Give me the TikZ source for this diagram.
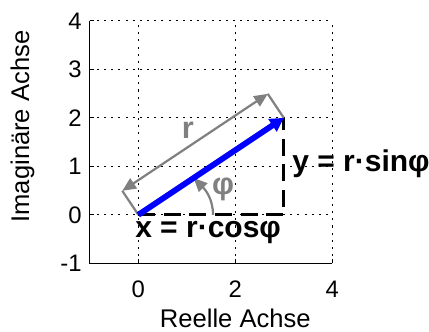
\documentclass[tikz,border=0pt]{standalone}
\usepackage{fontspec}
\setmainfont{Liberation Sans}
\usetikzlibrary{arrows.meta}
\definecolor{phasorblue}{RGB}{0,0,255}
\definecolor{phasorgray}{RGB}{128,128,128}

\begin{document}
\begin{tikzpicture}[
  gridline/.style={black, line width=0.5pt, dash pattern=on 1.2pt off 3pt},
  axisline/.style={black, line width=0.7pt},
  ticklabel/.style={font=\fontsize{14}{16}\selectfont, inner sep=0pt},
  axislabel/.style={font=\fontsize{15}{18}\selectfont, inner sep=0pt},
  partlabel/.style={font=\fontsize{17.6}{20}\selectfont\bfseries, inner sep=0pt, anchor=base west},
  graylabel/.style={phasorgray, font=\fontsize{18}{20}\selectfont\bfseries, inner sep=0pt},
  grayline/.style={phasorgray, line width=1.3pt},
  projline/.style={black, line width=1.8pt, dash pattern=on 10pt off 5pt},
]
\useasboundingbox (-2.852,-2.41) rectangle (5.994,4.43);

% grid
\draw[gridline] (0,-1) -- (0,4);
\draw[gridline] (2,-1) -- (2,4);
\draw[gridline] (4,-1) -- (4,4);
\draw[gridline] (-1,0) -- (4,0);
\draw[gridline] (-1,1) -- (4,1);
\draw[gridline] (-1,2) -- (4,2);
\draw[gridline] (-1,3) -- (4,3);
\draw[gridline] (-1,4) -- (4,4);

% axes
\draw[axisline] (-1,4) -- (-1,-1) -- (4,-1);
\foreach \t in {0,2,4} \draw[axisline] (\t,-1) -- (\t,-0.92);
\foreach \t in {-1,...,4} \draw[axisline] (-1,\t) -- (-0.92,\t);

\node[ticklabel, anchor=north] (xt0) at (0,-1.35) {0};
\node[ticklabel, anchor=north] (xt2) at (2,-1.35) {2};
\node[ticklabel, anchor=north] (xt4) at (4,-1.35) {4};
\foreach \t in {-1,...,4} \node[ticklabel, anchor=east] (yt\t) at (-1.16,\t) {\t};

\node[axislabel] (xlab) at (2,-2.13) {Reelle Achse};
\node[axislabel, rotate=90] (ylab) at (-2.39,1.82) {Imaginäre Achse};

% phasor
\coordinate (o) at (0,0);
\coordinate (p) at (3,2);
\coordinate (q) at (3,0);
\coordinate (ra) at (-0.33,0.495);
\coordinate (rb) at (2.67,2.495);
\coordinate (phiA) at (1.54,0);
\coordinate (phiB) at (1.14,0.76);

\draw[projline] (o) -- (q) -- (p);
\draw[grayline] (o) -- (ra);
\draw[grayline] (p) -- (rb);
\draw[grayline, {Triangle[length=8pt,width=7pt]}-{Triangle[length=8pt,width=7pt]}] (ra) -- (rb);
\draw[grayline, -{Triangle[length=8pt,width=7pt]}] (phiA) to[out=90, in=-45] (phiB);
\draw[phasorblue, line width=3.4pt, -{Triangle[length=8pt,width=8.5pt]}] (o) -- (p);

\node[graylabel] (rlab) at (1.02,1.74) {r};
\node[graylabel] (philab) at (1.75,0.52) {φ};
\node[partlabel] (xpart) at (-0.07,-0.46) {x = r·cosφ};
\node[partlabel] (ypart) at (3.17,0.90) {y = r·sinφ};
\end{tikzpicture}
\end{document}
